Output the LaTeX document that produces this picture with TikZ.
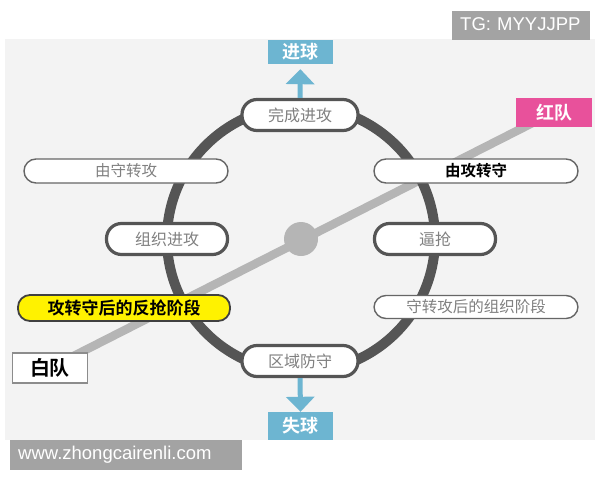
\documentclass[tikz,border=0pt]{standalone}
\usepackage{fontspec}
\setmainfont{Liberation Sans}
\newfontfamily\cjk{Noto Sans CJK SC}[BoldFont={Noto Sans CJK SC Bold}]
\usetikzlibrary{arrows.meta}
\definecolor{panel}{HTML}{F3F3F3}
\definecolor{ringc}{HTML}{555555}
\definecolor{linec}{HTML}{B5B5B5}
\definecolor{bluec}{HTML}{6DB5D1}
\definecolor{pinkc}{HTML}{E8519B}
\definecolor{yell}{HTML}{FFF200}
\definecolor{wmark}{HTML}{A3A3A3}
\definecolor{txtg}{HTML}{808080}
\tikzset{
  pill/.style={draw=#1, fill=white, rounded corners=12pt, inner sep=0pt, align=center},
  thickpill/.style={pill=ringc, line width=3.2pt, minimum width=116pt, minimum height=31pt, rounded corners=15pt,
    text=txtg, font=\cjk\fontsize{16}{16}\selectfont},
  thinpill/.style={pill=black!60, line width=1.4pt, minimum width=204pt, minimum height=24pt,
    text=txtg, font=\cjk\fontsize{15.5}{16}\selectfont},
  bluebox/.style={fill=bluec, text=white, inner sep=0pt, minimum width=65pt,
    font=\cjk\bfseries\fontsize{18}{18}\selectfont},
  teambox/.style={inner sep=0pt, minimum width=76pt, minimum height=30pt,
    font=\cjk\bfseries\fontsize{20}{20}\selectfont},
  wm/.style={fill=wmark, text=white, inner sep=0pt, anchor=west, text height=13pt, text depth=4pt,
    font=\fontsize{18.5}{19}\selectfont},
  bluearrow/.style={draw=bluec, line width=5pt, -{Triangle[width=28pt,length=15pt]}}
}
\begin{document}
\begin{tikzpicture}[x=1pt,y=-1pt]
\useasboundingbox (0,0) rectangle (600,480);
\fill[white] (0,0) rectangle (600,480);
\fill[panel] (5,39) rectangle (595,440);

% nodes (placed first for names; drawn content on top via layering order below)
\begin{scope}
% grey line from white team to red team
\coordinate (lineA) at (50,368);
\coordinate (lineB) at (554,112);
\draw[linec, line width=8.5pt] (lineA) -- (lineB);
% ring
\coordinate (ctr) at (301,239);
\draw[ringc, line width=10pt] (ctr) ellipse [x radius=134, y radius=133];
\node[circle, fill=linec, minimum size=34pt, inner sep=0pt] (dot) at (ctr) {};
\end{scope}

\node[thickpill] (wcjg) at (300,115) {完成进攻};
\node[thickpill, minimum width=121pt] (zzjg) at (167,239) {组织进攻};
\node[thickpill, minimum width=121pt] (bq) at (435,239) {逼抢};
\node[thickpill] (qyfs) at (300,361) {区域防守};

\node[thinpill] (yszg) at (126,171) {由守转攻};
\node[thinpill, text=black, font=\cjk\bfseries\fontsize{15.5}{16}\selectfont] (ygzs) at (476,171) {由攻转守};
\node[thinpill, minimum height=23pt] (sgz) at (476,307) {守转攻后的组织阶段};
\node[pill=black!75, fill=yell, line width=1.8pt, minimum width=212pt, minimum height=26pt,
  font=\cjk\bfseries\fontsize{17}{17}\selectfont] (fq) at (124,308) {攻转守后的反抢阶段};

\node[teambox, draw=black!45, fill=white, line width=1.4pt, minimum width=75pt] (bd) at (50,368) {白队};
\node[teambox, fill=pinkc, text=white, minimum height=29pt, font=\cjk\bfseries\fontsize{18}{18}\selectfont] (hd) at (554,112.5) {红队};

\node[bluebox, minimum height=24pt] (jq) at (300.5,52) {进球};
\node[bluebox, minimum height=28pt] (sq) at (300.5,426) {失球};

\draw[bluearrow, shorten >=5pt] (wcjg.north) -- (jq.south);
\draw[bluearrow] (qyfs.south) -- (sq.north);

% watermarks
\node[wm, minimum width=138pt, minimum height=29pt, text width=132pt] (tg) at (452,25.5) {\hspace*{5pt}TG: MYYJJPP};
\node[wm, minimum width=232pt, minimum height=30pt, text width=226pt] (web) at (10,455) {\hspace*{5pt}www.zhongcairenli.com};
\end{tikzpicture}
\end{document}
